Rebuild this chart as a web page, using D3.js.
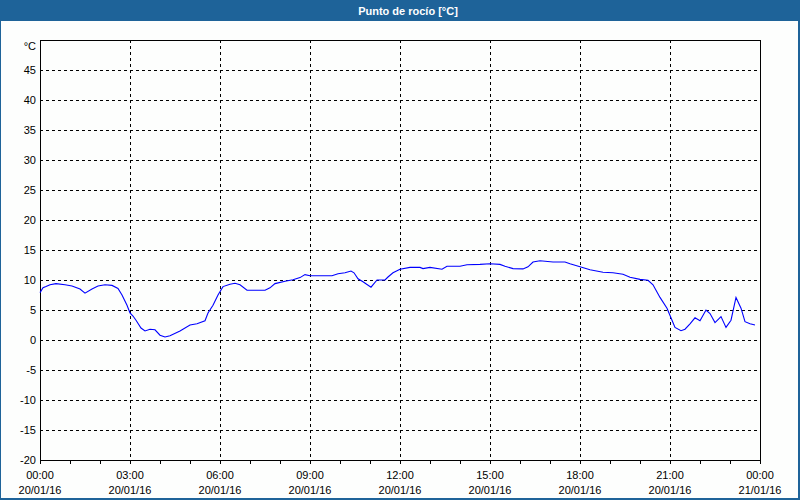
<!DOCTYPE html>
<html><head><meta charset="utf-8">
<script src="https://cdn.jsdelivr.net/npm/d3@7"></script>
<style>html,body{margin:0;padding:0;background:#fdfefd;}svg{display:block;}</style>
</head><body>
<svg id="c" width="800" height="500"></svg>
<script>
const title = "Punto de rocío [°C]";
const unitLabel = "°C";
const times = ["00:00","00:06","00:12","00:20","00:32","00:50","01:04","01:20","01:30","01:44","01:56","02:10","02:24","02:36","02:44","02:54","03:00","03:06","03:12","03:22","03:30","03:40","03:50","04:00","04:10","04:20","04:40","05:00","05:14","05:30","05:36","05:46","05:56","06:06","06:20","06:30","06:40","06:54","07:30","07:40","07:50","08:10","08:26","08:40","08:50","09:00","09:44","09:56","10:10","10:22","10:28","10:36","10:46","11:02","11:14","11:30","11:36","11:46","12:00","12:20","12:40","12:46","13:00","13:24","13:34","14:00","14:14","14:40","15:00","15:20","15:30","15:46","16:06","16:16","16:26","16:40","17:06","17:30","17:40","18:00","18:20","18:46","19:06","19:26","19:40","20:00","20:16","20:26","20:40","20:54","21:04","21:10","21:22","21:30","21:40","21:50","22:00","22:12","22:20","22:30","22:42","22:52","23:02","23:12","23:22","23:30","23:40","23:50"];
const dewPoint = [7.9,8.7,8.9,9.2,9.4,9.2,9.0,8.5,7.8,8.5,9.0,9.2,9.1,8.6,7.5,5.8,4.5,4.0,3.3,2.0,1.5,1.8,1.7,0.8,0.5,0.7,1.5,2.5,2.7,3.2,4.5,5.8,7.5,8.9,9.3,9.45,9.2,8.3,8.3,8.7,9.4,9.8,10.05,10.4,10.9,10.7,10.7,11.05,11.2,11.5,11.2,10.2,9.7,8.8,10.0,10.0,10.5,11.2,11.8,12.1,12.1,11.9,12.1,11.8,12.3,12.3,12.55,12.6,12.7,12.6,12.3,11.9,11.85,12.2,13.0,13.2,13.0,13.0,12.7,12.2,11.7,11.3,11.2,10.95,10.45,10.1,9.95,9.2,7.1,5.3,3.3,2.1,1.55,1.8,2.7,3.7,3.2,5.0,4.4,2.9,3.9,2.1,3.3,7.1,5.3,3.05,2.7,2.5];
const yTicks = [-20,-15,-10,-5,0,5,10,15,20,25,30,35,40,45];
const xTickHours = [0,3,6,9,12,15,18,21,24];
const xTickTimes = ["00:00","03:00","06:00","09:00","12:00","15:00","18:00","21:00","00:00"];
const xTickDates = ["20/01/16","20/01/16","20/01/16","20/01/16","20/01/16","20/01/16","20/01/16","20/01/16","21/01/16"];

const svg = d3.select("#c");
const L = 40, R = 760, T = 40, B = 460;
const toH = s => { const [h,m] = s.split(":").map(Number); return h + m/60; };
const x = d3.scaleLinear().domain([0,24]).range([L,R]);
const y = d3.scaleLinear().domain([-20,50]).range([B,T]);
const font = "'Liberation Sans', Arial, sans-serif";

svg.append("rect").attr("width",800).attr("height",500).attr("fill","#fdfefd");
// title bar
svg.append("rect").attr("x",0).attr("y",0).attr("width",800).attr("height",21).attr("fill","#1e6399");
svg.append("text").attr("x",408).attr("y",14.5).attr("text-anchor","middle")
  .attr("fill","#fff").attr("font-family",font).attr("font-weight","bold").attr("font-size",11).text(title);
// window frame
svg.append("rect").attr("x",0).attr("y",0).attr("width",1).attr("height",500).attr("fill","#1e6399");
svg.append("rect").attr("x",798).attr("y",0).attr("width",2).attr("height",500).attr("fill","#1e6399");
svg.append("rect").attr("x",0).attr("y",498).attr("width",800).attr("height",2).attr("fill","#1e6399");

// grid
const g = svg.append("g").attr("shape-rendering","crispEdges");
g.selectAll(".hg").data(yTicks.filter(v => v > -20)).enter().append("line")
  .attr("x1",L).attr("x2",R).attr("y1",d=>Math.round(y(d))+0.5).attr("y2",d=>Math.round(y(d))+0.5)
  .attr("stroke","#000").attr("stroke-dasharray","3,3");
g.selectAll(".vg").data(xTickHours.filter(h => h>0 && h<24)).enter().append("line")
  .attr("y1",T).attr("y2",B).attr("x1",d=>Math.round(x(d))+0.5).attr("x2",d=>Math.round(x(d))+0.5)
  .attr("stroke","#000").attr("stroke-dasharray","3,3");
// hourly ticks
g.selectAll(".tk").data(d3.range(0,25)).enter().append("line")
  .attr("x1",d=>Math.round(x(d))+0.5).attr("x2",d=>Math.round(x(d))+0.5).attr("y1",B).attr("y2",B+4)
  .attr("stroke","#000");
// frame
g.append("rect").attr("x",L+0.5).attr("y",T+0.5).attr("width",R-L).attr("height",B-T)
  .attr("fill","none").attr("stroke","#000");

// y labels
svg.selectAll(".yl").data(yTicks).enter().append("text")
  .attr("x",36).attr("y",d=>y(d)+4).attr("text-anchor","end")
  .attr("font-family",font).attr("font-size",11).attr("fill","#000").text(d=>d);
svg.append("text").attr("x",36).attr("y",50).attr("text-anchor","end")
  .attr("font-family",font).attr("font-size",11).attr("fill","#000").text(unitLabel);
// x labels
xTickHours.forEach((h,i)=>{
  svg.append("text").attr("x",x(h)).attr("y",479).attr("text-anchor","middle")
    .attr("font-family",font).attr("font-size",11).attr("fill","#000").text(xTickTimes[i]);
  svg.append("text").attr("x",x(h)).attr("y",494).attr("text-anchor","middle")
    .attr("font-family",font).attr("font-size",11).attr("fill","#000").text(xTickDates[i]);
});

// line
const pts = times.map((t,i)=>({h:toH(t), v:dewPoint[i]}));
svg.append("path").datum(pts)
  .attr("d", d3.line().x(d=>x(d.h)).y(d=>y(d.v)))
  .attr("fill","none").attr("stroke","#0000ff").attr("stroke-width",1.1);
</script>
</body></html>
